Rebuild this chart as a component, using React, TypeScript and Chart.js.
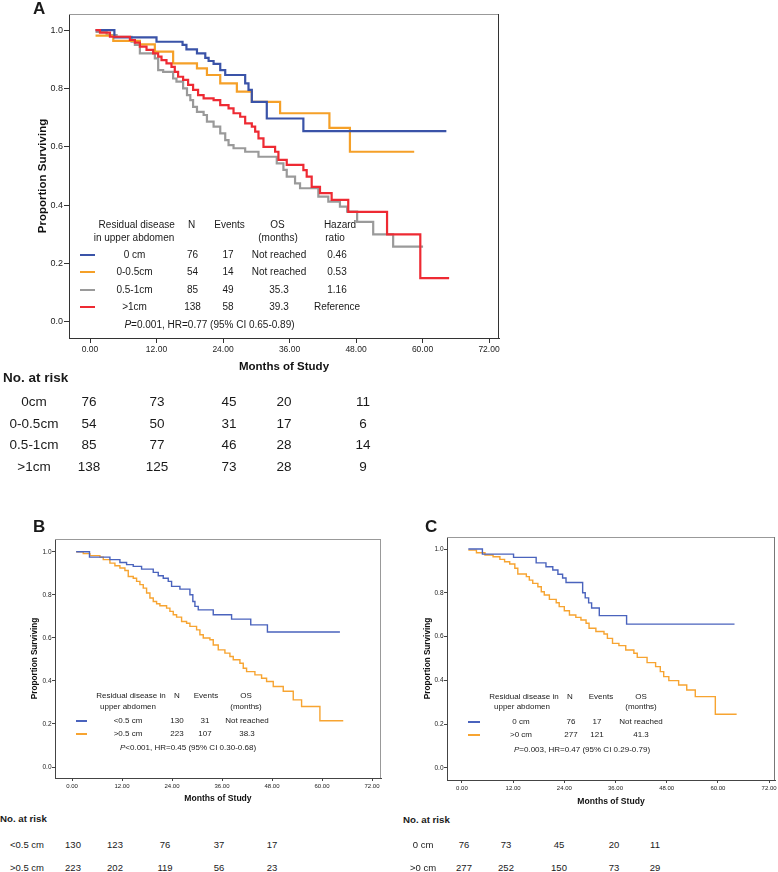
import React, { useEffect, useRef } from 'react';
import { Chart, registerables } from 'chart.js';

Chart.register(...registerables);

const FONT = '"Liberation Sans", Arial, Helvetica, sans-serif';

// ---------- shared axis ticks ----------
const monthTicks = [0, 12, 24, 36, 48, 60, 72];
const survivalTicks = [0, 0.2, 0.4, 0.6, 0.8, 1.0];

// ---------- Panel A ----------
const aGroups = ['0 cm', '0-0.5cm', '0.5-1cm', '>1cm'];
const aN = [76, 54, 85, 138];
const aEvents = [17, 14, 49, 58];
const aOS = ['Not reached', 'Not reached', '35.3', '39.3'];
const aHR = ['0.46', '0.53', '1.16', 'Reference'];
const aStat = '=0.001, HR=0.77 (95% CI 0.65-0.89)';
const aRiskLabels = ['0cm', '0-0.5cm', '0.5-1cm', '>1cm'];
const aRisk0 = [76, 73, 45, 20, 11];
const aRisk1 = [54, 50, 31, 17, 6];
const aRisk2 = [85, 77, 46, 28, 14];
const aRisk3 = [138, 125, 73, 28, 9];

const a0Time = [1, 4.4, 12.0, 16.7, 17.4, 19.3, 20.8, 21.4, 22.3, 23.5, 24.4, 28.0, 28.6, 29.2, 31.9, 38.5, 64.3];
const a0Surv = [1.0, 0.975, 0.96, 0.949, 0.934, 0.92, 0.905, 0.894, 0.884, 0.863, 0.846, 0.817, 0.795, 0.754, 0.697, 0.654, 0.654];

const a05Time = [1, 4.2, 9.0, 11.7, 15.0, 19.3, 21.1, 23.5, 26.5, 29.2, 34.3, 43.2, 46.9, 58.5];
const a05Surv = [0.981, 0.963, 0.951, 0.926, 0.886, 0.869, 0.846, 0.817, 0.789, 0.754, 0.715, 0.665, 0.583, 0.583];

const a51Time = [1, 3.0, 4.8, 7.5, 8.1, 9.0, 11.7, 12.3, 13.2, 15.0, 15.6, 16.8, 17.5, 18.1, 18.6, 19.3, 20.5, 21.1, 22.3, 23.5, 24.4, 25.0, 25.9, 28.0, 30.4, 33.7, 34.9, 35.5, 37.0, 37.9, 41.2, 43.0, 45.1, 46.4, 48.2, 51.1, 54.7, 60.1];
const a51Surv = [0.994, 0.983, 0.977, 0.96, 0.949, 0.92, 0.903, 0.863, 0.857, 0.834, 0.823, 0.8, 0.777, 0.76, 0.737, 0.72, 0.709, 0.686, 0.669, 0.646, 0.623, 0.606, 0.595, 0.583, 0.566, 0.543, 0.521, 0.498, 0.475, 0.458, 0.429, 0.412, 0.395, 0.378, 0.343, 0.3, 0.258, 0.258];

const a1Time = [1, 1.8, 3.6, 7.2, 8.1, 9.0, 10.2, 11.4, 12.3, 12.9, 13.8, 14.7, 15.3, 15.9, 16.8, 17.7, 18.6, 19.5, 20.5, 22.3, 23.5, 25.0, 25.9, 27.1, 28.0, 29.2, 29.8, 30.4, 31.3, 33.4, 34.0, 35.5, 38.5, 39.1, 40.0, 41.5, 43.6, 46.6, 53.6, 59.6, 64.8];
const a1Surv = [1.0, 0.991, 0.977, 0.966, 0.957, 0.943, 0.932, 0.92, 0.909, 0.897, 0.886, 0.874, 0.857, 0.84, 0.829, 0.812, 0.795, 0.777, 0.766, 0.76, 0.743, 0.732, 0.715, 0.703, 0.68, 0.669, 0.652, 0.629, 0.6, 0.583, 0.555, 0.538, 0.52, 0.498, 0.463, 0.441, 0.418, 0.377, 0.3, 0.15, 0.15];

// ---------- Panel B ----------
const bGroups = ['<0.5 cm', '>0.5 cm'];
const bN = [130, 223];
const bEvents = [31, 107];
const bOS = ['Not reached', '38.3'];
const bStat = '<0.001, HR=0.45 (95% CI 0.30-0.68)';
const bRiskLabels = ['<0.5 cm', '>0.5 cm'];
const bRisk0 = [130, 123, 76, 37, 17];
const bRisk1 = [223, 202, 119, 56, 23];

const bLowTime = [1, 4.2, 9.1, 11.5, 13.1, 14.7, 16.7, 19.5, 20.7, 21.9, 23.1, 23.9, 25.9, 28.3, 29.0, 29.5, 30.3, 33.9, 38.3, 42.9, 46.9, 64.3];
const bLowSurv = [1.0, 0.975, 0.963, 0.95, 0.94, 0.932, 0.919, 0.904, 0.888, 0.877, 0.862, 0.839, 0.826, 0.8, 0.769, 0.746, 0.73, 0.707, 0.687, 0.66, 0.627, 0.627];

const bHighTime = [1, 2.7, 4.3, 6.7, 7.5, 9.1, 10.3, 11.5, 12.7, 13.5, 14.7, 15.5, 16.3, 17.1, 17.9, 18.7, 19.5, 20.3, 21.1, 22.7, 23.5, 24.3, 25.1, 26.3, 27.5, 28.3, 29.9, 30.7, 31.5, 33.1, 33.9, 35.1, 36.7, 37.9, 38.7, 40.3, 41.1, 41.9, 43.9, 45.5, 46.7, 48.3, 50.7, 53.1, 55.1, 59.5, 65.1];
const bHighSurv = [1.0, 0.991, 0.982, 0.975, 0.963, 0.947, 0.935, 0.924, 0.913, 0.885, 0.877, 0.862, 0.847, 0.831, 0.808, 0.785, 0.769, 0.758, 0.749, 0.738, 0.723, 0.707, 0.696, 0.676, 0.668, 0.653, 0.637, 0.614, 0.599, 0.591, 0.567, 0.544, 0.529, 0.513, 0.498, 0.482, 0.459, 0.443, 0.428, 0.412, 0.397, 0.374, 0.352, 0.312, 0.281, 0.215, 0.215];

// ---------- Panel C ----------
const cGroups = ['0 cm', '>0 cm'];
const cN = [76, 277];
const cEvents = [17, 121];
const cOS = ['Not reached', '41.3'];
const cStat = '=0.003, HR=0.47 (95% CI 0.29-0.79)';
const cRiskLabels = ['0 cm', '>0 cm'];
const cRisk0 = [76, 73, 45, 20, 11];
const cRisk1 = [277, 252, 150, 73, 29];

const cZeroTime = [1.5, 4.8, 12.1, 17.4, 19.7, 21.3, 22.5, 23.6, 24.4, 28.3, 28.9, 29.7, 30.4, 32.2, 38.6, 63.9];
const cZeroSurv = [1.0, 0.977, 0.962, 0.937, 0.919, 0.904, 0.885, 0.868, 0.847, 0.8, 0.777, 0.754, 0.731, 0.696, 0.657, 0.657];

const cPosTime = [1.5, 3.4, 5.4, 7.3, 8.9, 10.0, 11.2, 12.4, 13.1, 15.1, 15.8, 16.6, 17.8, 18.6, 19.3, 20.5, 22.1, 22.8, 24.0, 25.2, 26.7, 27.9, 29.1, 29.8, 31.4, 33.3, 34.1, 35.3, 36.8, 38.4, 40.3, 41.1, 43.4, 45.4, 46.5, 47.3, 48.5, 50.8, 52.7, 54.7, 59.4, 64.4];
const cPosSurv = [0.995, 0.983, 0.973, 0.965, 0.953, 0.942, 0.932, 0.912, 0.886, 0.874, 0.858, 0.843, 0.828, 0.805, 0.79, 0.77, 0.755, 0.737, 0.718, 0.699, 0.688, 0.676, 0.661, 0.638, 0.623, 0.612, 0.592, 0.569, 0.559, 0.539, 0.524, 0.505, 0.481, 0.463, 0.44, 0.417, 0.399, 0.379, 0.356, 0.326, 0.245, 0.245];

// ---------- colours ----------
const A_BLUE = '#3a53a8';
const A_ORANGE = '#f5a028';
const A_GRAY = '#9a9a9a';
const A_RED = '#ee2a33';
const S_BLUE = '#4a63bd';
const S_ORANGE = '#f7a431';

function pts(t: number[], s: number[]) {
  return t.map((x, i) => ({ x, y: s[i] }));
}

type Series = { t: number[]; s: number[]; color: string };
type Cfg = {
  left: number; top: number; width: number; height: number;
  area: { left: number; top: number; right: number; bottom: number };
  xMin: number; xMax: number; yMin: number; yMax: number;
  series: Series[]; lineW: number;
  xTickSize: number; yTickSize: number; tickLen: number; xTickPad: number; yTickPad: number;
  titleSize: number; yTitleSize: number; yTitlePad: number; xTitlePad: number;
  topColor: string; rightColor: string; axisColor: string;
};

function KMChart({ cfg }: { cfg: Cfg }) {
  const ref = useRef<HTMLCanvasElement | null>(null);
  useEffect(() => {
    const c = cfg;
    const framePlugin = {
      id: 'frame',
      afterDraw(chart: any) {
        const { ctx, chartArea: a } = chart;
        ctx.save();
        ctx.lineWidth = 1;
        ctx.strokeStyle = c.topColor;
        ctx.beginPath();
        ctx.moveTo(a.left, Math.round(a.top) + 0.5);
        ctx.lineTo(a.right, Math.round(a.top) + 0.5);
        ctx.stroke();
        ctx.strokeStyle = c.rightColor;
        ctx.beginPath();
        ctx.moveTo(Math.round(a.right) - 0.5, a.top);
        ctx.lineTo(Math.round(a.right) - 0.5, a.bottom);
        ctx.stroke();
        ctx.restore();
      },
    };
    const chart = new Chart(ref.current as HTMLCanvasElement, {
      type: 'line',
      data: {
        datasets: c.series.map((s) => ({
          data: pts(s.t, s.s),
          borderColor: s.color,
          backgroundColor: s.color,
          borderWidth: c.lineW,
          stepped: 'before' as const,
          pointRadius: 0,
          fill: false,
          tension: 0,
        })),
      },
      options: {
        responsive: false,
        animation: false,
        events: [],
        layout: { padding: { left: 0, top: c.area.top, right: c.width - c.area.right, bottom: 0 } },
        plugins: { legend: { display: false }, tooltip: { enabled: false } },
        scales: {
          x: {
            type: 'linear',
            min: c.xMin,
            max: c.xMax,
            afterFit: (s: any) => { s.height = c.height - c.area.bottom; },
            afterBuildTicks: (s: any) => { s.ticks = monthTicks.map((v) => ({ value: v })); },
            grid: { display: true, drawOnChartArea: false, drawTicks: true, tickLength: c.tickLen, color: c.axisColor },
            border: { display: true, color: c.axisColor, width: 1 },
            ticks: {
              font: { family: FONT, size: c.xTickSize },
              color: '#222',
              padding: c.xTickPad,
              maxRotation: 0,
              autoSkip: false,
              callback: (v: any) => Number(v).toFixed(2),
            },
            title: {
              display: true,
              text: 'Months of Study',
              color: '#111',
              font: { family: FONT, size: c.titleSize, weight: 'bold' },
              padding: { top: 0, bottom: c.xTitlePad },
            },
          },
          y: {
            type: 'linear',
            min: c.yMin,
            max: c.yMax,
            afterFit: (s: any) => { s.width = c.area.left; },
            afterBuildTicks: (s: any) => { s.ticks = survivalTicks.map((v) => ({ value: v })); },
            grid: { display: true, drawOnChartArea: false, drawTicks: true, tickLength: c.tickLen, color: c.axisColor },
            border: { display: true, color: c.axisColor, width: 1 },
            ticks: {
              font: { family: FONT, size: c.yTickSize },
              color: '#222',
              padding: c.yTickPad,
              autoSkip: false,
              callback: (v: any) => Number(v).toFixed(1),
            },
            title: {
              display: true,
              text: 'Proportion Surviving',
              color: '#111',
              font: { family: FONT, size: c.yTitleSize, weight: 'bold' },
              padding: { top: c.yTitlePad, bottom: 0 },
            },
          },
        },
      },
      plugins: [framePlugin],
    } as any);
    return () => chart.destroy();
  }, []);
  return (
    <canvas
      ref={ref}
      width={cfg.width}
      height={cfg.height}
      style={{ position: 'absolute', left: cfg.left, top: cfg.top, width: cfg.width, height: cfg.height }}
    />
  );
}

function Txt(props: { x: number; y: number; size: number; bold?: boolean; align?: 'left' | 'center' | 'right'; children: any }) {
  const { x, y, size, bold, align = 'center', children } = props;
  const tx = align === 'center' ? '-50%' : align === 'right' ? '-100%' : '0';
  return (
    <div
      style={{
        position: 'absolute', left: x, top: y, transform: `translate(${tx}, -50%)`,
        fontSize: size, fontWeight: bold ? 'bold' : 'normal', lineHeight: 1,
        whiteSpace: 'nowrap', fontFamily: FONT, color: '#1a1a1a',
      }}
    >
      {children}
    </div>
  );
}

function Swatch(props: { x1: number; x2: number; y: number; h: number; color: string }) {
  const { x1, x2, y, h, color } = props;
  return <div style={{ position: 'absolute', left: x1, top: y - h / 2, width: x2 - x1, height: h, background: color }} />;
}

const cfgA: Cfg = {
  left: 0, top: 0, width: 510, height: 380,
  area: { left: 69, top: 14, right: 499, bottom: 338 },
  xMin: -3.79, xMax: 73.8, yMin: -0.055, yMax: 1.055,
  series: [
    { t: a1Time, s: a1Surv, color: A_RED },
    { t: a0Time, s: a0Surv, color: A_BLUE },
    { t: a05Time, s: a05Surv, color: A_ORANGE },
    { t: a51Time, s: a51Surv, color: A_GRAY },
  ],
  lineW: 2.2,
  xTickSize: 8.5, yTickSize: 9, tickLen: 5, xTickPad: 2, yTickPad: 1,
  titleSize: 11.5, yTitleSize: 11.5, yTitlePad: 35.6, xTitlePad: 6.4,
  topColor: '#999', rightColor: '#333', axisColor: '#333',
};

const cfgB: Cfg = {
  left: 0, top: 500, width: 392, height: 305,
  area: { left: 55, top: 39, right: 381, bottom: 278 },
  xMin: -4.08, xMax: 74.16, yMin: -0.051, yMax: 1.059,
  series: [
    { t: bLowTime, s: bLowSurv, color: S_BLUE },
    { t: bHighTime, s: bHighSurv, color: S_ORANGE },
  ],
  lineW: 1.4,
  xTickSize: 6, yTickSize: 6.5, tickLen: 3, xTickPad: 1.4, yTickPad: 0.5,
  titleSize: 8.6, yTitleSize: 8.2, yTitlePad: 30, xTitlePad: 0.8,
  topColor: '#999', rightColor: '#999', axisColor: '#444',
};

const cfgC: Cfg = {
  left: 392, top: 500, width: 386, height: 310,
  area: { left: 55, top: 37, right: 385, bottom: 280 },
  xMin: -3.5, xMax: 73.4, yMin: -0.055, yMax: 1.055,
  series: [
    { t: cZeroTime, s: cZeroSurv, color: S_BLUE },
    { t: cPosTime, s: cPosSurv, color: S_ORANGE },
  ],
  lineW: 1.4,
  xTickSize: 6, yTickSize: 6.5, tickLen: 3, xTickPad: 1.4, yTickPad: 0.5,
  titleSize: 8.6, yTitleSize: 8.2, yTitlePad: 31, xTitlePad: 2.8,
  topColor: '#999', rightColor: '#777', axisColor: '#444',
};

export default function App() {
  const aColors = [A_BLUE, A_ORANGE, A_GRAY, A_RED];
  const aRowsY = [255, 272.3, 289.7, 307];
  const aRisk = [aRisk0, aRisk1, aRisk2, aRisk3];
  const aRiskX = [89, 157, 229, 284, 363];
  const aRiskY = [402, 423.5, 445, 466.5];

  const sColors = [S_BLUE, S_ORANGE];
  const bRisk = [bRisk0, bRisk1];
  const cRisk = [cRisk0, cRisk1];
  const bRiskX = [73, 115, 165, 219, 272];
  const cRiskX = [464, 506, 559, 614, 655];
  const riskY2 = [845, 868];

  return (
    <div style={{ position: 'absolute', left: 0, top: 0, width: 778, height: 872, background: '#fff', overflow: 'hidden', fontFamily: FONT }}>
      <KMChart cfg={cfgA} />
      <KMChart cfg={cfgB} />
      <KMChart cfg={cfgC} />

      {/* Panel letters */}
      <Txt x={33} y={8} size={17} bold align="left">A</Txt>
      <Txt x={33} y={525.5} size={17} bold align="left">B</Txt>
      <Txt x={425} y={526} size={17} bold align="left">C</Txt>

      {/* Panel A legend table */}
      <Txt x={136.7} y={225} size={10}>Residual disease</Txt>
      <Txt x={134} y={238} size={10}>in upper abdomen</Txt>
      <Txt x={191.7} y={225} size={10}>N</Txt>
      <Txt x={229.5} y={225} size={10}>Events</Txt>
      <Txt x={277.5} y={225} size={10}>OS</Txt>
      <Txt x={278} y={238} size={10}>(months)</Txt>
      <Txt x={340} y={225} size={10}>Hazard</Txt>
      <Txt x={335} y={238} size={10}>ratio</Txt>
      {aGroups.map((g, i) => (
        <React.Fragment key={'al' + i}>
          <Swatch x1={80} x2={95} y={aRowsY[i]} h={2} color={aColors[i]} />
          <Txt x={134.5} y={aRowsY[i]} size={10}>{g}</Txt>
          <Txt x={192.5} y={aRowsY[i]} size={10}>{aN[i]}</Txt>
          <Txt x={228} y={aRowsY[i]} size={10}>{aEvents[i]}</Txt>
          <Txt x={279} y={aRowsY[i]} size={10}>{aOS[i]}</Txt>
          <Txt x={337} y={aRowsY[i]} size={10}>{aHR[i]}</Txt>
        </React.Fragment>
      ))}
      <Txt x={209.5} y={325} size={10}><i>P</i>{aStat}</Txt>

      {/* Panel A at-risk table */}
      <Txt x={3} y={377.5} size={13.5} bold align="left">No. at risk</Txt>
      {aRiskLabels.map((l, i) => (
        <React.Fragment key={'ar' + i}>
          <Txt x={34} y={aRiskY[i]} size={13.5}>{l}</Txt>
          {aRisk[i].map((v, j) => (
            <Txt key={j} x={aRiskX[j]} y={aRiskY[i]} size={13.5}>{v}</Txt>
          ))}
        </React.Fragment>
      ))}

      {/* Panel B legend */}
      <Txt x={131} y={696} size={8}>Residual disease in</Txt>
      <Txt x={128} y={707} size={8}>upper abdomen</Txt>
      <Txt x={177} y={696} size={8}>N</Txt>
      <Txt x={206} y={696} size={8}>Events</Txt>
      <Txt x={246} y={696} size={8}>OS</Txt>
      <Txt x={246} y={707} size={8}>(months)</Txt>
      {bGroups.map((g, i) => (
        <React.Fragment key={'bl' + i}>
          <Swatch x1={76} x2={87} y={721 + i * 13} h={1.5} color={sColors[i]} />
          <Txt x={128} y={721 + i * 13} size={8}>{g}</Txt>
          <Txt x={177} y={721 + i * 13} size={8}>{bN[i]}</Txt>
          <Txt x={205} y={721 + i * 13} size={8}>{bEvents[i]}</Txt>
          <Txt x={247} y={721 + i * 13} size={8}>{bOS[i]}</Txt>
        </React.Fragment>
      ))}
      <Txt x={188} y={748} size={8}><i>P</i>{bStat}</Txt>

      {/* Panel B at-risk */}
      <Txt x={0} y={819} size={9.7} bold align="left">No. at risk</Txt>
      {bRiskLabels.map((l, i) => (
        <React.Fragment key={'br' + i}>
          <Txt x={27} y={riskY2[i]} size={9.5}>{l}</Txt>
          {bRisk[i].map((v, j) => (
            <Txt key={j} x={bRiskX[j]} y={riskY2[i]} size={9.5}>{v}</Txt>
          ))}
        </React.Fragment>
      ))}

      {/* Panel C legend */}
      <Txt x={524} y={697} size={8}>Residual disease in</Txt>
      <Txt x={522} y={707} size={8}>upper abdomen</Txt>
      <Txt x={570} y={697} size={8}>N</Txt>
      <Txt x={601} y={697} size={8}>Events</Txt>
      <Txt x={641} y={697} size={8}>OS</Txt>
      <Txt x={641} y={707} size={8}>(months)</Txt>
      {cGroups.map((g, i) => (
        <React.Fragment key={'cl' + i}>
          <Swatch x1={468} x2={480} y={722 + i * 13} h={1.5} color={sColors[i]} />
          <Txt x={521} y={722 + i * 13} size={8}>{g}</Txt>
          <Txt x={571} y={722 + i * 13} size={8}>{cN[i]}</Txt>
          <Txt x={597} y={722 + i * 13} size={8}>{cEvents[i]}</Txt>
          <Txt x={641} y={722 + i * 13} size={8}>{cOS[i]}</Txt>
        </React.Fragment>
      ))}
      <Txt x={582} y={750} size={8}><i>P</i>{cStat}</Txt>

      {/* Panel C at-risk */}
      <Txt x={403} y={820} size={9.7} bold align="left">No. at risk</Txt>
      {cRiskLabels.map((l, i) => (
        <React.Fragment key={'cr' + i}>
          <Txt x={423} y={riskY2[i]} size={9.5}>{l}</Txt>
          {cRisk[i].map((v, j) => (
            <Txt key={j} x={cRiskX[j]} y={riskY2[i]} size={9.5}>{v}</Txt>
          ))}
        </React.Fragment>
      ))}
    </div>
  );
}
